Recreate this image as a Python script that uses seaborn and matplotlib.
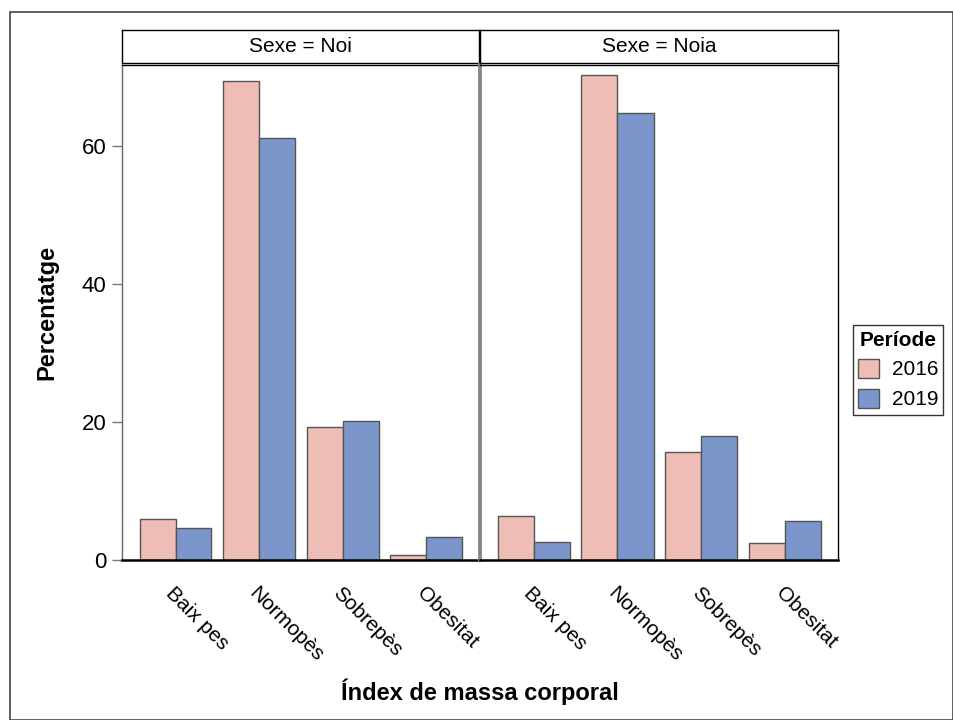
import pandas as pd
import seaborn as sns
import matplotlib.pyplot as plt
from matplotlib.patches import Rectangle, Patch

# --- data ------------------------------------------------------------------
categories = ['Baix pes', 'Normopès', 'Sobrepès', 'Obesitat']
periods = ['2016', '2019']
sexes = ['Noi', 'Noia']

noi_2016 = [6.0, 69.4, 19.2, 0.7]
noi_2019 = [4.7, 61.1, 20.2, 3.4]
noia_2016 = [6.4, 70.2, 15.7, 2.4]
noia_2019 = [2.6, 64.8, 17.9, 5.7]

values = {('Noi', '2016'): noi_2016, ('Noi', '2019'): noi_2019,
          ('Noia', '2016'): noia_2016, ('Noia', '2019'): noia_2019}

rows = []
for (sexe, per), vals in values.items():
    for cat, v in zip(categories, vals):
        rows.append({'Sexe': sexe, 'Període': per, 'IMC': cat, 'Percentatge': v})
df = pd.DataFrame(rows)

colors = ['#EEBDB5', '#7B96CB']
edge = '#555555'

sns.set_style('white')
plt.rcParams['font.family'] = ['Liberation Sans', 'DejaVu Sans']
plt.rcParams['text.color'] = 'black'
plt.rcParams['xtick.color'] = 'black'
plt.rcParams['ytick.color'] = 'black'

W, H = 954, 720
fig = plt.figure(figsize=(W / 100, H / 100), dpi=100)


def fx(px):
    return px / W


def fy(py):
    return 1 - py / H


# outer frame
fig.patches.append(Rectangle((fx(10), 0), fx(953) - fx(10), fy(12),
                             transform=fig.transFigure, fill=False,
                             edgecolor='#444444', linewidth=1.2))

panels = [(122, 479), (480, 838)]
top, bottom = 65, 560
strip_top, strip_bot = 30, 63

for i, (sexe, (x0, x1)) in enumerate(zip(sexes, panels)):
    ax = fig.add_axes([fx(x0), fy(bottom), fx(x1) - fx(x0), fy(top) - fy(bottom)])
    sns.barplot(data=df[df['Sexe'] == sexe], x='IMC', y='Percentatge',
                hue='Període', hue_order=periods, order=categories,
                palette=colors, saturation=1, width=0.86, edgecolor=edge,
                linewidth=1, ax=ax, legend=False)
    ax.set_xlim(-0.64, 3.63)
    ax.set_ylim(0, 71.7)
    ax.set_xlabel('')
    ax.set_ylabel('')
    ax.set_yticks([0, 20, 40, 60])
    ax.tick_params(axis='x', direction='out', length=8, width=1.2,
                   color='#777777', labelcolor='black', labelsize=15, pad=9)
    ax.tick_params(axis='y', direction='out', length=7, width=1,
                   color='#777777', labelcolor='black', labelsize=16, pad=4)
    ax.set_xticks(range(len(categories)))
    ax.set_xticklabels(categories, rotation=-45, ha='left', va='top',
                       rotation_mode='anchor')
    for s in ax.spines.values():
        s.set_visible(True)
    ax.spines['bottom'].set_color('black')
    ax.spines['bottom'].set_linewidth(1.8)
    ax.spines['top'].set_color('black')
    ax.spines['top'].set_linewidth(1)
    if i == 0:
        ax.spines['left'].set_color('#666666')
        ax.spines['left'].set_linewidth(1)
        ax.spines['right'].set_visible(False)
        ax.tick_params(axis='y', left=True)
    else:
        ax.spines['left'].set_color('#888888')
        ax.spines['left'].set_linewidth(2.8)
        ax.spines['right'].set_color('black')
        ax.spines['right'].set_linewidth(1)
        ax.tick_params(axis='y', left=False, labelleft=False)

    sax = fig.add_axes([fx(x0), fy(strip_bot), fx(x1) - fx(x0), fy(strip_top) - fy(strip_bot)])
    sax.set_xticks([])
    sax.set_yticks([])
    for s in sax.spines.values():
        s.set_visible(True)
        s.set_color('black')
        s.set_linewidth(1)
    sax.text(0.5, 0.5, f'Sexe = {sexe}', ha='center', va='center', fontsize=15,
             color='black', transform=sax.transAxes)

fig.text(fx(480), fy(692), 'Índex de massa corporal', ha='center', va='center',
         fontsize=17, fontweight='bold', color='black')
fig.text(fx(47), fy(312), 'Percentatge', ha='center', va='center', rotation=90,
         fontsize=17, fontweight='bold', color='black')

handles = [Patch(facecolor=c, edgecolor=edge, linewidth=1) for c in colors]
leg = fig.legend(handles, periods, title='Període', loc='center left',
                 bbox_to_anchor=(fx(853), fy(370)), fontsize=15,
                 title_fontproperties={'weight': 'bold', 'size': 15},
                 frameon=True, fancybox=False, edgecolor='black',
                 handlelength=1.0, handleheight=1.0, handletextpad=0.6,
                 borderpad=0.25, labelspacing=0.45, borderaxespad=0)
leg.get_frame().set_linewidth(1)

fig.savefig('out.png', dpi=100)
